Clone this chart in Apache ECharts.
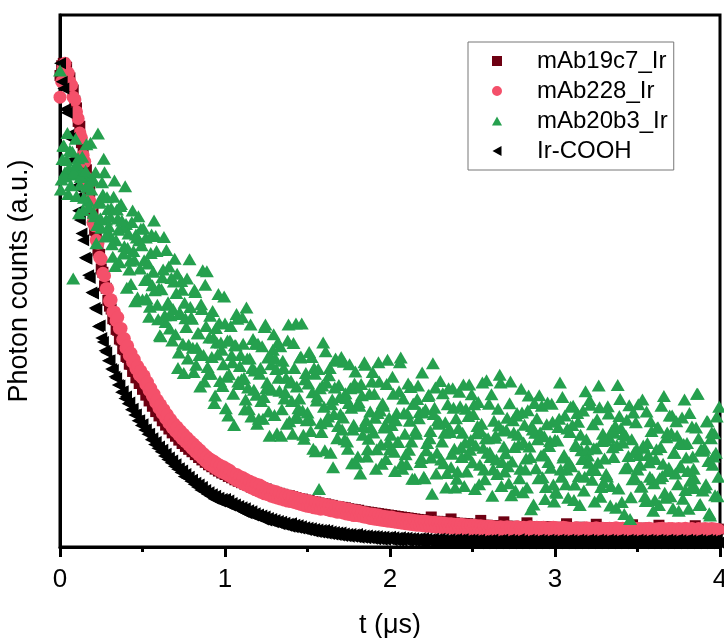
<!DOCTYPE html>
<html><head><meta charset="utf-8">
<script src="https://cdn.jsdelivr.net/npm/echarts@6/dist/echarts.min.js"></script>
<style>html,body{margin:0;padding:0;background:#fff}#c{width:724px;height:638px}</style>
</head><body><div id="c"></div>
<script>
const seriesNames = ['mAb19c7_Ir', 'mAb228_Ir', 'mAb20b3_Ir', 'Ir-COOH'];
const xTicks = [0, 1, 2, 3, 4];
const yRange = [0, 1100];
// time in microseconds
const t = [
0,0.01,0.02,0.03,0.04,0.05,0.06,0.07,0.08,0.09,
0.1,0.11,0.12,0.13,0.14,0.15,0.16,0.17,0.18,0.19,
0.2,0.21,0.22,0.23,0.24,0.25,0.26,0.27,0.28,0.29,
0.3,0.31,0.32,0.33,0.34,0.35,0.36,0.37,0.38,0.39,
0.4,0.41,0.42,0.43,0.44,0.45,0.46,0.47,0.48,0.49,
0.5,0.51,0.52,0.53,0.54,0.55,0.56,0.57,0.58,0.59,
0.6,0.61,0.62,0.63,0.64,0.65,0.66,0.67,0.68,0.69,
0.7,0.71,0.72,0.73,0.74,0.75,0.76,0.77,0.78,0.79,
0.8,0.81,0.82,0.83,0.84,0.85,0.86,0.87,0.88,0.89,
0.9,0.91,0.92,0.93,0.94,0.95,0.96,0.97,0.98,0.99,
1,1.01,1.02,1.03,1.04,1.05,1.06,1.07,1.08,1.09,
1.1,1.11,1.12,1.13,1.14,1.15,1.16,1.17,1.18,1.19,
1.2,1.21,1.22,1.23,1.24,1.25,1.26,1.27,1.28,1.29,
1.3,1.31,1.32,1.33,1.34,1.35,1.36,1.37,1.38,1.39,
1.4,1.41,1.42,1.43,1.44,1.45,1.46,1.47,1.48,1.49,
1.5,1.51,1.52,1.53,1.54,1.55,1.56,1.57,1.58,1.59,
1.6,1.61,1.62,1.63,1.64,1.65,1.66,1.67,1.68,1.69,
1.7,1.71,1.72,1.73,1.74,1.75,1.76,1.77,1.78,1.79,
1.8,1.81,1.82,1.83,1.84,1.85,1.86,1.87,1.88,1.89,
1.9,1.91,1.92,1.93,1.94,1.95,1.96,1.97,1.98,1.99,
2,2.01,2.02,2.03,2.04,2.05,2.06,2.07,2.08,2.09,
2.1,2.11,2.12,2.13,2.14,2.15,2.16,2.17,2.18,2.19,
2.2,2.21,2.22,2.23,2.24,2.25,2.26,2.27,2.28,2.29,
2.3,2.31,2.32,2.33,2.34,2.35,2.36,2.37,2.38,2.39,
2.4,2.41,2.42,2.43,2.44,2.45,2.46,2.47,2.48,2.49,
2.5,2.51,2.52,2.53,2.54,2.55,2.56,2.57,2.58,2.59,
2.6,2.61,2.62,2.63,2.64,2.65,2.66,2.67,2.68,2.69,
2.7,2.71,2.72,2.73,2.74,2.75,2.76,2.77,2.78,2.79,
2.8,2.81,2.82,2.83,2.84,2.85,2.86,2.87,2.88,2.89,
2.9,2.91,2.92,2.93,2.94,2.95,2.96,2.97,2.98,2.99,
3,3.01,3.02,3.03,3.04,3.05,3.06,3.07,3.08,3.09,
3.1,3.11,3.12,3.13,3.14,3.15,3.16,3.17,3.18,3.19,
3.2,3.21,3.22,3.23,3.24,3.25,3.26,3.27,3.28,3.29,
3.3,3.31,3.32,3.33,3.34,3.35,3.36,3.37,3.38,3.39,
3.4,3.41,3.42,3.43,3.44,3.45,3.46,3.47,3.48,3.49,
3.5,3.51,3.52,3.53,3.54,3.55,3.56,3.57,3.58,3.59,
3.6,3.61,3.62,3.63,3.64,3.65,3.66,3.67,3.68,3.69,
3.7,3.71,3.72,3.73,3.74,3.75,3.76,3.77,3.78,3.79,
3.8,3.81,3.82,3.83,3.84,3.85,3.86,3.87,3.88,3.89,
3.9,3.91,3.92,3.93,3.94,3.95,3.96,3.97,3.98,3.99
];
// extra time bins (half-step) for the noisy mAb20b3_Ir trace
const tHalf = [
0.005,0.015,0.025,0.035,0.045,0.055,0.065,0.075,0.085,0.095,
0.105,0.115,0.125,0.135,0.145,0.155,0.165,0.175,0.185,0.195,
0.205,0.215,0.225,0.235,0.245,0.255,0.265,0.275,0.285,0.295,
0.305,0.315,0.325,0.335,0.345,0.355,0.365,0.375,0.385,0.395,
0.405,0.415,0.425,0.435,0.445,0.455,0.465,0.475,0.485,0.495,
0.505,0.515,0.525,0.535,0.545,0.555,0.565,0.575,0.585,0.595,
0.605,0.615,0.625,0.635,0.645,0.655,0.665,0.675,0.685,0.695,
0.705,0.715,0.725,0.735,0.745,0.755,0.765,0.775,0.785,0.795,
0.805,0.815,0.825,0.835,0.845,0.855,0.865,0.875,0.885,0.895,
0.905,0.915,0.925,0.935,0.945,0.955,0.965,0.975,0.985,0.995,
1.005,1.015,1.025,1.035,1.045,1.055,1.065,1.075,1.085,1.095,
1.105,1.115,1.125,1.135,1.145,1.155,1.165,1.175,1.185,1.195,
1.205,1.215,1.225,1.235,1.245,1.255,1.265,1.275,1.285,1.295,
1.305,1.315,1.325,1.335,1.345,1.355,1.365,1.375,1.385,1.395,
1.405,1.415,1.425,1.435,1.445,1.455,1.465,1.475,1.485,1.495,
1.505,1.515,1.525,1.535,1.545,1.555,1.565,1.575,1.585,1.595,
1.605,1.615,1.625,1.635,1.645,1.655,1.665,1.675,1.685,1.695,
1.705,1.715,1.725,1.735,1.745,1.755,1.765,1.775,1.785,1.795,
1.805,1.815,1.825,1.835,1.845,1.855,1.865,1.875,1.885,1.895,
1.905,1.915,1.925,1.935,1.945,1.955,1.965,1.975,1.985,1.995,
2.005,2.015,2.025,2.035,2.045,2.055,2.065,2.075,2.085,2.095,
2.105,2.115,2.125,2.135,2.145,2.155,2.165,2.175,2.185,2.195,
2.205,2.215,2.225,2.235,2.245,2.255,2.265,2.275,2.285,2.295,
2.305,2.315,2.325,2.335,2.345,2.355,2.365,2.375,2.385,2.395,
2.405,2.415,2.425,2.435,2.445,2.455,2.465,2.475,2.485,2.495,
2.505,2.515,2.525,2.535,2.545,2.555,2.565,2.575,2.585,2.595,
2.605,2.615,2.625,2.635,2.645,2.655,2.665,2.675,2.685,2.695,
2.705,2.715,2.725,2.735,2.745,2.755,2.765,2.775,2.785,2.795,
2.805,2.815,2.825,2.835,2.845,2.855,2.865,2.875,2.885,2.895,
2.905,2.915,2.925,2.935,2.945,2.955,2.965,2.975,2.985,2.995,
3.005,3.015,3.025,3.035,3.045,3.055,3.065,3.075,3.085,3.095,
3.105,3.115,3.125,3.135,3.145,3.155,3.165,3.175,3.185,3.195,
3.205,3.215,3.225,3.235,3.245,3.255,3.265,3.275,3.285,3.295,
3.305,3.315,3.325,3.335,3.345,3.355,3.365,3.375,3.385,3.395,
3.405,3.415,3.425,3.435,3.445,3.455,3.465,3.475,3.485,3.495,
3.505,3.515,3.525,3.535,3.545,3.555,3.565,3.575,3.585,3.595,
3.605,3.615,3.625,3.635,3.645,3.655,3.665,3.675,3.685,3.695,
3.705,3.715,3.725,3.735,3.745,3.755,3.765,3.775,3.785,3.795,
3.805,3.815,3.825,3.835,3.845,3.855,3.865,3.875,3.885,3.895,
3.905,3.915,3.925,3.935,3.945,3.955,3.965,3.975,3.985,3.995
];
const mAb19c7 = [
975,995,1000,990,992,972,970,950,945,922,
908,880,870,836,826,790,780,744,735,700,
690,655,645,612,605,575,568,540,535,510,
498,492,472,470,450,448,430,428,410,408,
394,392,378,378,363,364,350,350,338,338,
326,328,314,315,302,304,291,293,280,283,
271,274,261,264,252,256,244,247,236,240,
229,231,221,225,214,218,208,212,202,206,
197,200,191,195,185,190,180,184,175,179,
170,175,166,170,161,166,157,162,153,158,
150,155,146,152,143,148,139,145,136,142,
133,139,130,136,127,133,124,130,121,127,
118,125,116,122,113,120,111,117,109,115,
106,113,104,111,102,109,100,107,98,106,
96,104,95,102,93,100,91,99,90,97,
88,96,86,94,85,93,83,91,82,90,
80,89,79,87,77,86,76,84,75,83,
73,82,72,81,70,79,69,78,68,77,
67,76,66,74,64,73,63,72,62,71,
61,70,60,69,58,68,57,67,56,66,
55,65,54,64,53,63,52,62,51,61,
50,60,49,59,48,58,48,57,47,56,
46,56,45,55,45,62,44,53,43,53,
43,52,42,51,42,51,41,58,40,50,
40,49,39,49,39,48,38,48,38,47,
38,47,37,46,37,55,36,45,36,45,
35,44,36,43,35,44,35,43,34,52,
34,43,35,42,34,43,33,42,34,41,
33,42,34,50,33,41,34,42,33,41,
32,41,33,40,32,42,33,41,32,40,
33,40,32,41,31,40,32,48,31,40,
32,40,31,39,32,41,31,40,32,39,
31,39,32,40,31,47,30,39,31,40,
32,38,31,39,30,40,31,39,30,38,
31,39,30,38,31,39,30,46,31,38,
30,38,31,37,30,39,31,38,30,37,
31,37,30,45,31,38,30,37,29,38,
30,38,29,37,31,38,30,37,29,38,
29,37,30,38,29,44,30,37,29,36,
30,37,29,38,30,37,29,36,30,37
];
const mAb228 = [
930,962,992,1000,983,980,962,955,930,924,
900,886,856,846,810,797,764,751,716,706,
671,664,634,628,599,595,566,561,534,534,
509,511,486,486,468,475,452,452,429,431,
411,416,396,401,382,388,369,374,356,364,
349,354,336,341,324,328,312,316,299,304,
287,294,276,284,266,274,256,264,247,255,
239,248,232,240,224,233,218,226,211,219,
204,213,197,206,191,200,184,193,178,187,
172,182,168,178,163,173,159,169,155,166,
152,162,148,158,144,152,140,150,136,146,
133,143,129,139,126,136,122,133,119,130,
116,128,113,124,110,120,108,118,105,116,
103,114,101,111,99,109,97,107,95,105,
94,104,92,102,90,100,88,98,86,96,
84,95,83,93,81,92,80,90,78,89,
79,88,77,86,75,85,74,83,72,82,
72,81,70,79,68,78,67,76,65,75,
65,74,64,72,62,71,61,69,59,68,
58,67,57,66,56,64,55,63,54,62,
53,62,52,60,51,59,50,58,49,57,
48,57,47,56,46,55,45,54,45,53,
44,53,43,52,43,51,42,51,41,50,
41,50,40,49,40,48,39,48,39,47,
38,47,38,47,37,46,37,45,36,45,
36,45,35,44,35,44,34,43,34,43,
33,43,34,42,33,41,34,42,33,41,
32,42,33,41,32,40,33,42,32,40,
33,41,32,40,33,42,31,40,32,41,
31,40,32,41,31,39,32,40,31,41,
32,40,31,39,32,41,31,40,30,39,
31,39,30,40,31,38,30,39,31,40,
30,39,31,38,30,40,31,38,30,39,
31,38,30,39,29,38,30,40,31,38,
30,39,29,38,30,37,31,39,29,38,
29,38,30,37,29,38,30,39,29,37,
30,37,29,38,30,39,29,37,30,38,
29,38,30,37,29,38,28,37,30,39,
30,37,29,38,30,36,29,38,28,37,
29,38,28,37,30,38,29,37,28,36
];
const mAb20b3 = [
985,760,830,775,800,730,820,770,555,785,
726,804,749,775,697,768,833,716,758,739,
761,684,628,855,715,660,729,775,677,699,
647,701,600,758,634,679,589,709,660,622,
668,618,574,544,696,594,646,516,634,658,
512,593,640,555,476,608,541,675,643,501,
535,436,558,641,465,501,580,479,427,549,
440,565,402,482,532,360,473,555,418,496,
472,362,527,412,442,332,492,397,542,570,
358,478,393,433,313,423,523,343,408,378,
462,352,272,427,397,317,417,482,342,374,
347,420,285,495,330,390,270,430,365,315,
420,358,302,265,455,328,392,230,378,408,
273,368,423,323,230,385,307,350,427,260,
344,234,370,462,267,307,394,282,224,360,
278,403,240,320,370,198,311,120,256,334,
290,405,260,355,195,305,275,390,225,335,
275,243,383,318,218,298,328,173,253,363,
330,300,152,314,250,377,187,224,280,342,
237,267,202,382,282,172,292,252,337,217,
202,252,317,157,277,217,382,172,307,234,
171,338,261,218,296,141,234,334,279,184,
278,142,200,312,225,185,380,288,152,262,
259,181,318,236,123,295,245,165,328,203,
266,156,321,206,236,126,286,191,336,221,
175,295,210,250,130,240,340,160,225,195,
296,186,106,261,231,151,251,340,176,208,
194,267,132,342,177,237,117,277,212,162,
278,216,160,123,313,186,250,88,236,266,
142,237,292,192,99,254,176,219,296,129,
222,112,248,340,145,185,272,160,102,238,
167,292,129,209,259,87,200,282,145,223,
189,304,159,254,94,204,174,289,124,234,
183,151,291,226,126,206,236,81,335,271,
246,216,68,230,166,293,103,140,196,258,
160,190,125,305,205,95,215,175,260,140,
132,182,247,87,207,147,312,102,237,164,
105,272,195,152,230,75,168,268,213,118,
215,79,137,249,162,122,317,225,89,199,
201,123,260,178,65,237,187,107,270,145
];
const mAb20b3Half = [
739,802,829,766,856,784,748,817,775,844,
791,690,765,807,722,778,745,703,836,758,
691,775,666,712,680,754,803,642,723,663,
683,626,724,581,698,656,705,675,607,746,
536,648,592,672,612,508,640,684,576,624,
659,552,514,586,497,646,569,531,612,471,
438,533,574,479,614,506,452,556,492,596,
525,370,485,550,420,505,455,390,595,475,
412,532,377,442,397,502,572,342,457,372,
433,358,488,298,453,398,463,423,333,518,
287,427,357,457,382,252,417,472,337,397,
475,350,305,390,285,460,370,325,420,255,
265,370,415,310,460,340,280,395,325,440,
390,235,350,415,285,370,320,255,460,340,
302,422,267,332,287,392,462,232,347,262,
338,263,393,203,358,303,368,328,238,423,
200,340,270,370,295,165,330,385,250,310,
393,268,223,308,203,378,288,243,338,173,
187,292,337,232,382,262,202,317,247,362,
317,162,277,342,212,297,247,182,387,267,
232,352,197,262,217,322,392,162,277,192,
276,201,331,141,296,241,306,266,176,361,
145,285,215,315,240,110,275,330,195,255,
343,218,173,258,153,328,238,193,288,123,
141,246,291,186,336,216,156,271,201,316,
275,120,235,300,170,255,205,140,345,225,
196,316,161,226,181,286,356,126,241,156,
242,167,297,107,262,207,272,232,142,327,
113,253,183,283,208,78,243,298,163,223,
314,189,144,229,124,299,209,164,259,94,
115,220,265,160,310,190,130,245,175,290,
252,97,212,277,147,232,182,117,322,202,
174,294,139,204,159,264,334,104,219,134,
221,146,276,86,241,186,251,211,121,306,
93,233,163,263,188,58,223,278,143,203,
295,170,125,210,105,280,190,145,240,75,
97,202,247,142,292,172,112,227,157,272,
235,80,195,260,130,215,165,100,305,185,
157,277,122,187,142,247,317,87,202,117,
205,130,260,70,225,170,235,195,105,290
];
const IrCOOH = [
1000,962,948,905,898,852,845,800,781,745,
722,695,676,648,634,598,596,562,556,526,
524,494,491,456,458,432,424,406,402,385,
386,368,366,352,349,335,334,320,322,307,
311,296,299,284,286,273,274,261,262,251,
254,242,243,233,234,222,225,212,217,204,
208,197,201,188,193,181,185,174,179,167,
171,161,163,154,158,146,151,142,145,136,
139,130,133,124,129,118,124,114,118,109,
113,105,109,100,106,97,102,94,99,93,
99,89,96,86,91,85,88,80,85,77,
82,73,80,70,76,68,74,65,70,63,
67,61,65,57,63,55,60,54,58,51,
56,50,54,47,52,46,50,44,48,42,
49,41,46,40,45,38,43,37,41,35,
40,34,39,32,37,31,36,30,35,29,
35,28,34,27,32,26,31,25,30,24,
30,23,28,22,27,21,27,21,26,20,
27,19,25,19,24,18,24,18,23,17,
23,16,22,16,21,15,21,15,20,16,
21,14,20,14,19,13,20,13,19,14,
19,12,18,13,18,12,17,12,18,11,
18,11,17,12,16,10,17,11,16,10,
17,10,16,11,15,10,16,9,15,11,
16,9,15,10,16,9,14,10,15,9,
15,9,14,8,15,10,13,8,14,9,
14,8,15,9,13,8,14,10,15,8,
13,9,15,8,14,9,13,8,16,9,
14,8,13,9,15,8,14,10,13,8,
15,9,14,8,13,9,15,8,14,10,
13,8,15,9,14,8,13,9,15,8,
14,9,13,8,15,10,14,8,13,9,
15,8,14,9,13,8,15,9,14,8,
13,9,15,8,14,10,13,8,15,9,
14,8,13,9,15,8,14,9,13,10,
15,9,14,8,13,9,15,8,14,9,
13,8,15,10,14,8,13,9,15,8,
14,9,13,8,15,9,14,8,13,9,
15,8,14,9,13,8,15,10,14,8,
13,9,15,8,14,9,13,8,15,9
];

const FONT = "'Liberation Sans', Arial, sans-serif";
const pair = (times, vals) => times.map((x, i) => [x, vals[i]]);
const greenData = pair(t, mAb20b3).concat(pair(tHalf, mAb20b3Half));
const chart = echarts.init(document.getElementById('c'), null, {renderer: 'canvas'});
const option = {
  animation: false,
  backgroundColor: '#fff',
  grid: {left: 60, right: 4, top: 15, bottom: 91, outerBoundsMode: 'none', containLabel: false,
         show: true, borderColor: '#000', borderWidth: 3, backgroundColor: 'transparent'},
  legend: {
    data: [
      {name: seriesNames[0], icon: 'rect'},
      {name: seriesNames[1], icon: 'path://M5,0A5,5,0,1,1,4.99,0Z'},
      {name: seriesNames[2], icon: 'path://M5,0L10,9L0,9Z'},
      {name: seriesNames[3], icon: 'path://M9,0L9,10L0,5Z'}
    ],
    orient: 'vertical',
    left: 468, top: 42,
    padding: [7, 6, 7, 24],
    itemWidth: 10, itemHeight: 10, itemGap: 6,
    borderColor: '#777', borderWidth: 1,
    textStyle: {fontFamily: FONT, fontSize: 24, color: '#000', lineHeight: 24, padding: [0, 0, 0, 30]}
  },
  xAxis: {
    type: 'value', min: xTicks[0], max: xTicks[xTicks.length - 1], interval: 1,
    name: 't (\u03bcs)', nameLocation: 'middle', nameGap: 65,
    nameTextStyle: {fontFamily: FONT, fontSize: 27, color: '#000'},
    axisLine: {show: true, lineStyle: {color: '#000', width: 3}},
    axisTick: {show: true, inside: false, length: 10, lineStyle: {color: '#000', width: 3}},
    minorTick: {show: true, splitNumber: 2, length: 5, lineStyle: {color: '#000', width: 3}},
    splitLine: {show: false},
    axisLabel: {fontFamily: FONT, fontSize: 26, color: '#000', margin: 20}
  },
  yAxis: {
    type: 'value', min: yRange[0], max: yRange[1],
    name: 'Photon counts (a.u.)', nameLocation: 'middle', nameGap: 27,
    nameTextStyle: {fontFamily: FONT, fontSize: 27, color: '#000'},
    axisLine: {show: true, lineStyle: {color: '#000', width: 3}},
    axisTick: {show: false}, axisLabel: {show: false}, splitLine: {show: false}
  },
  series: [
    {name: seriesNames[0], type: 'scatter', data: pair(t, mAb19c7), symbol: 'rect', symbolSize: 11, z: 2,
     itemStyle: {color: '#6e0012', opacity: 1}},
    {name: seriesNames[1], type: 'scatter', data: pair(t, mAb228), symbol: 'circle', symbolSize: 13, z: 3,
     itemStyle: {color: '#f4506a', opacity: 1}},
    {name: seriesNames[2], type: 'scatter', data: greenData, symbol: 'triangle', symbolSize: [14, 12], z: 5,
     itemStyle: {color: '#25a04e', opacity: 1}},
    {name: seriesNames[3], type: 'scatter', data: pair(t, IrCOOH), symbol: 'triangle', symbolRotate: 90, symbolSize: 12, z: 4,
     itemStyle: {color: '#000', opacity: 1}}
  ]
};
chart.setOption(option);
</script>
</body></html>
